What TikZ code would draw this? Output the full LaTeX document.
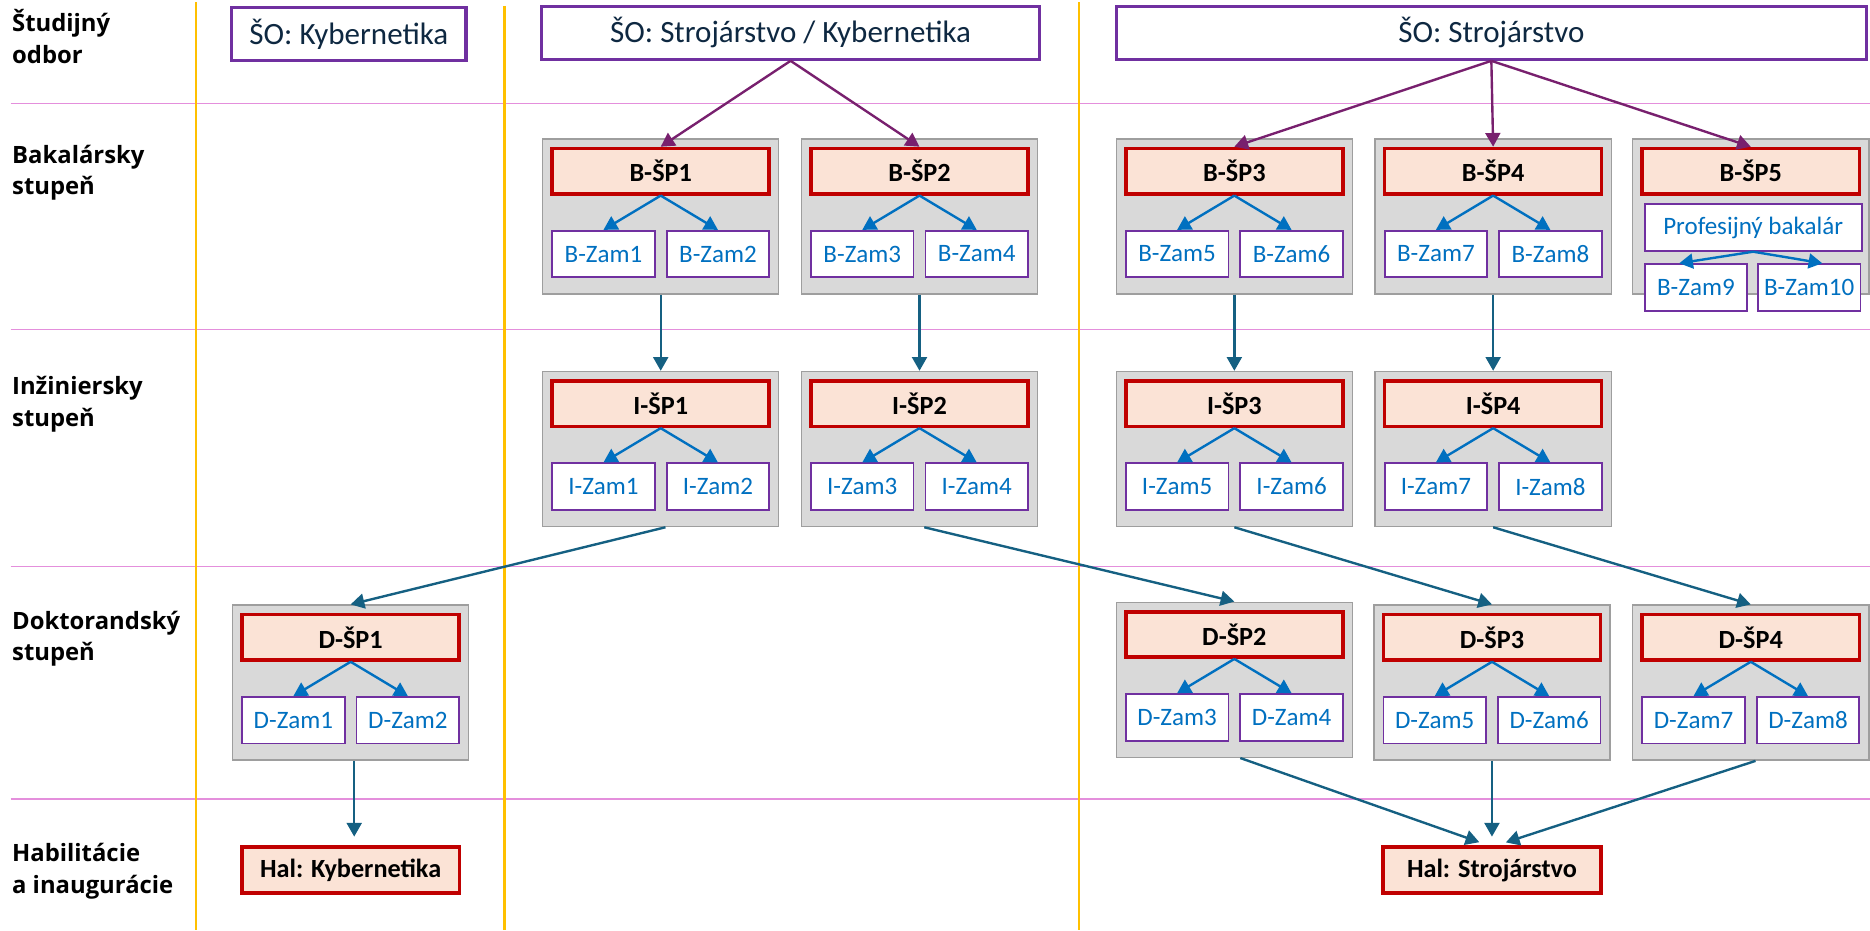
\documentclass[tikz,border=0pt]{standalone}
\usepackage{fontspec}
\setmainfont{Carlito}
\newfontfamily\rowfont{Open Sans}
\usetikzlibrary{arrows.meta}

\definecolor{sopurple}{HTML}{7030A0}
\definecolor{spred}{HTML}{C00000}
\definecolor{spfill}{HTML}{FBE3D6}
\definecolor{grpfill}{HTML}{D9D9D9}
\definecolor{grpline}{HTML}{9E9E9E}
\definecolor{zamblue}{HTML}{0070C0}
\definecolor{sonavy}{HTML}{0E2841}
\definecolor{levelteal}{HTML}{156082}
\definecolor{somagenta}{HTML}{78206E}
\definecolor{colyellow}{HTML}{FFC000}
\definecolor{rowpink}{HTML}{E48FDC}

\begin{document}
\begin{tikzpicture}[x=1pt,y=-1pt,
        so/.style={draw=sopurple,line width=2.6pt,fill=white,text=sonavy,font=\fontsize{26}{30}\selectfont,minimum height=44.4pt,inner sep=0pt},
        grp/.style={draw=grpline,line width=1.2pt,fill=grpfill,minimum width=198pt,minimum height=130pt,inner sep=0pt},
        sphead/.style={draw=spred,line width=3pt,fill=spfill,text=black,font=\fontsize{22}{26}\selectfont\bfseries,minimum width=182pt,minimum height=38pt,inner sep=0pt},
        zam/.style={draw=sopurple,line width=1.5pt,fill=white,text=zamblue,font=\fontsize{21}{25}\selectfont,minimum width=86pt,minimum height=39pt,inner sep=0pt},
        rowlabel/.style={font=\rowfont\fontsize{20}{26.5}\selectfont\bfseries,align=left,anchor=base west,inner sep=0pt},
        colline/.style={draw=colyellow,line width=1.8pt},
        rowline/.style={draw=rowpink,line width=1pt},
        arrowtip/.style={-{Triangle[length=11.5pt,width=12.5pt]}},
        soarrow/.style={draw=somagenta,line width=2pt,arrowtip},
        levelarrow/.style={draw=levelteal,line width=2pt,arrowtip},
        zamarrow/.style={draw=zamblue,line width=2pt,arrowtip},
        level distance=69.5pt,sibling distance=96pt,
        parent anchor=south,child anchor=north,
        edge from parent/.style={zamarrow},
    ]
        \useasboundingbox (0,0) rectangle (1568,780);

        \draw[rowline] (9,87) -- (1568,87);
        \draw[rowline] (9,276) -- (1568,276);
        \draw[rowline] (9,475) -- (1568,475);
        \draw[rowline] (9,670) -- (1568,670);
        \draw[colline] (164,2) -- (164,780);
        \draw[colline] (423,5) -- (423,780);
        \draw[colline] (905,2) -- (905,780);

        \node[rowlabel] (lso) at (10,53) {Študijný\\odbor};
        \node[rowlabel] (lbak) at (10,163.5) {Bakalársky\\stupeň};
        \node[rowlabel] (ling) at (10,357.5) {Inžiniersky\\stupeň};
        \node[rowlabel] (ldok) at (10,554) {Doktorandský\\stupeň};
        \node[rowlabel] (lhab) at (10,749) {Habilitácie\\a inaugurácie};

        \node[so,minimum width=196.4pt] (so1) at (292.5,28.4) {ŠO: Kybernetika};
        \node[so,minimum width=417.4pt] (so2) at (662.9,27.5) {ŠO: Strojárstvo / Kybernetika};
        \node[so,minimum width=629.4pt] (so3) at (1250.5,27.5) {ŠO: Strojárstvo};

        \node[grp] (gb1) at (554,181.5) {};
        \node[grp] (gb2) at (771,181.5) {};
        \node[grp] (gb3) at (1035,181.5) {};
        \node[grp] (gb4) at (1252,181.5) {};
        \node[grp] (gb5) at (1468,181.5) {};
        \node[grp] (gi1) at (554,376.5) {};
        \node[grp] (gi2) at (771,376.5) {};
        \node[grp] (gi3) at (1035,376.5) {};
        \node[grp] (gi4) at (1252,376.5) {};
        \node[grp] (gd1) at (294,572.4) {};
        \node[grp] (gd2) at (1035,570) {};
        \node[grp] (gd3) at (1251,572.4) {};
        \node[grp] (gd4) at (1468,572.4) {};

        \node[sphead] (bsp1) at (554,143.5) {B-ŠP1}
        child{
                node[zam] (bzam1) {B-Zam1}
            }
        child{
                node[zam] (bzam2) {B-Zam2}
            };
        \node[sphead] (bsp2) at (771,143.5) {B-ŠP2}
        child{
                node[zam] (bzam3) {B-Zam3}
            }
        child{
                node[zam] (bzam4) {B-Zam4}
            };
        \node[sphead] (bsp3) at (1035,143.5) {B-ŠP3}
        child{
                node[zam] (bzam5) {B-Zam5}
            }
        child{
                node[zam] (bzam6) {B-Zam6}
            };
        \node[sphead] (bsp4) at (1252,143.5) {B-ŠP4}
        child{
                node[zam] (bzam7) {B-Zam7}
            }
        child{
                node[zam] (bzam8) {B-Zam8}
            };
        \node[sphead] (bsp5) at (1468,143.5) {B-ŠP5};
        \node[zam,minimum width=182pt] (prof) at (1470,190.8) {Profesijný bakalár};
        \node[zam] (bzam9) at (1422,241) {B-Zam9};
        \node[zam] (bzam10) at (1517,241) {B-Zam10};
        \draw[zamarrow] (prof.south) -- ([xshift=-14pt]bzam9.north);
        \draw[zamarrow] (prof.south) -- ([xshift=11pt]bzam10.north);

        \node[sphead] (isp1) at (554,338.5) {I-ŠP1}
        child{
                node[zam] (izam1) {I-Zam1}
            }
        child{
                node[zam] (izam2) {I-Zam2}
            };
        \node[sphead] (isp2) at (771,338.5) {I-ŠP2}
        child{
                node[zam] (izam3) {I-Zam3}
            }
        child{
                node[zam] (izam4) {I-Zam4}
            };
        \node[sphead] (isp3) at (1035,338.5) {I-ŠP3}
        child{
                node[zam] (izam5) {I-Zam5}
            }
        child{
                node[zam] (izam6) {I-Zam6}
            };
        \node[sphead] (isp4) at (1252,338.5) {I-ŠP4}
        child{
                node[zam] (izam7) {I-Zam7}
            }
        child{
                node[zam] (izam8) {I-Zam8}
            };

        \node[sphead] (dsp1) at (294,534.4) {D-ŠP1}
        child{
                node[zam] (dzam1) {D-Zam1}
            }
        child{
                node[zam] (dzam2) {D-Zam2}
            };
        \node[sphead] (dsp2) at (1035,532) {D-ŠP2}
        child{
                node[zam] (dzam3) {D-Zam3}
            }
        child{
                node[zam] (dzam4) {D-Zam4}
            };
        \node[sphead] (dsp3) at (1251,534.4) {D-ŠP3}
        child{
                node[zam] (dzam5) {D-Zam5}
            }
        child{
                node[zam] (dzam6) {D-Zam6}
            };
        \node[sphead] (dsp4) at (1468,534.4) {D-ŠP4}
        child{
                node[zam] (dzam7) {D-Zam7}
            }
        child{
                node[zam] (dzam8) {D-Zam8}
            };

        \node[sphead,minimum width=182.5pt,minimum height=39pt] (hal1) at (294,729.5) {Hal: Kybernetika};
        \node[sphead,minimum width=182.5pt,minimum height=39pt] (hal2) at (1251,729.5) {Hal: Strojárstvo};

        \draw[soarrow] (so2.south) -- (bsp1.north);
        \draw[soarrow] (so2.south) -- (bsp2.north);
        \draw[soarrow] (so3.south) -- (bsp3.north);
        \draw[soarrow] (so3.south) -- (bsp4.north);
        \draw[soarrow] (so3.south) -- (bsp5.north);

        \draw[levelarrow] (gb1.south) -- (gi1.north);
        \draw[levelarrow] (gb2.south) -- (gi2.north);
        \draw[levelarrow] (gb3.south) -- (gi3.north);
        \draw[levelarrow] (gb4.south) -- (gi4.north);

        \draw[levelarrow] ([xshift=4pt]gi1.south) -- (gd1.north);
        \draw[levelarrow] ([xshift=4pt]gi2.south) -- (gd2.north);
        \draw[levelarrow] (gi3.south) -- (gd3.north);
        \draw[levelarrow] (gi4.south) -- (gd4.north);

        \draw[levelarrow,shorten >=7pt] ([xshift=3pt]gd1.south) -- ([xshift=3pt]hal1.north);
        \draw[levelarrow,shorten >=7pt] ([xshift=5pt]gd2.south) -- ([xshift=-4pt]hal2.north);
        \draw[levelarrow,shorten >=7pt] (gd3.south) -- (hal2.north);
        \draw[levelarrow,shorten >=7pt] ([xshift=4pt]gd4.south) -- ([xshift=5pt]hal2.north);

    \end{tikzpicture}
\end{document}
